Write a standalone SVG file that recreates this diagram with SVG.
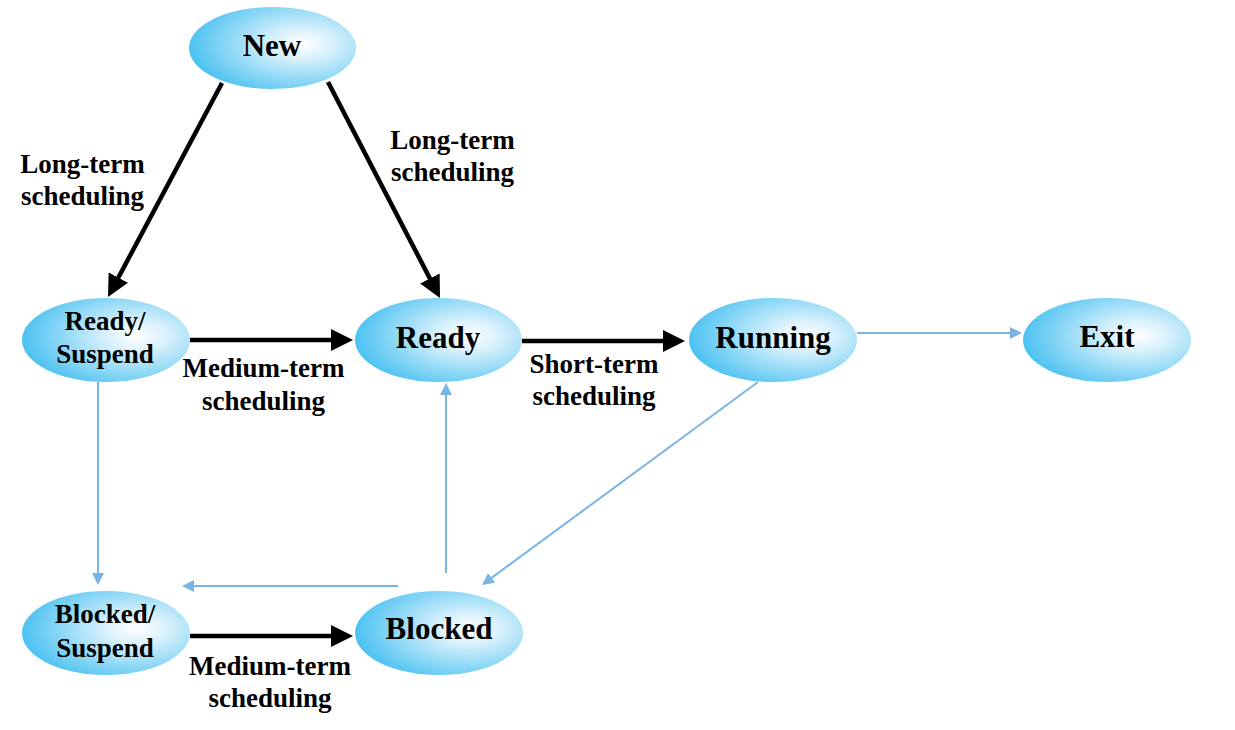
<svg xmlns="http://www.w3.org/2000/svg" width="1235" height="730" viewBox="0 0 1235 730">
<style>
.node{fill:url(#g);stroke:none}
.nt{font-family:"Liberation Serif","Times New Roman",serif;font-weight:bold;font-size:31px;fill:#000;text-anchor:middle}
.nt2{font-family:"Liberation Serif","Times New Roman",serif;font-weight:bold;font-size:27px;fill:#000;text-anchor:middle}
.lbl{font-family:"Liberation Serif","Times New Roman",serif;font-weight:bold;font-size:27px;fill:#000;text-anchor:middle}
.blk{stroke:#000;stroke-width:4.5;fill:none;marker-end:url(#ab)}
.blu{stroke:#7ab4e4;stroke-width:2;fill:none;marker-end:url(#au)}
</style>
<defs>
<radialGradient id="g" cx="0.68" cy="0.45" r="0.68" fx="0.68" fy="0.45">
<stop offset="0" stop-color="#ffffff"/>
<stop offset="0.25" stop-color="#dcf2fc"/>
<stop offset="1" stop-color="#4cc2f1"/>
</radialGradient>
<marker id="ab" markerUnits="userSpaceOnUse" viewBox="0 0 22 22" markerWidth="22" markerHeight="22" refX="12" refY="11" orient="auto">
<path d="M0,0 L22,11 L0,22 z" fill="#000"/>
</marker>
<marker id="au" markerUnits="userSpaceOnUse" viewBox="0 0 12 12" markerWidth="12" markerHeight="12" refX="6" refY="6" orient="auto">
<path d="M0,0 L12,6 L0,12 z" fill="#7ab4e4"/>
</marker>
</defs>
<g id="connectors">
<line class="blk" x1="222" y1="83" x2="112.7" y2="288.2"/>
<line class="blk" x1="328" y1="82" x2="435.4" y2="289.1"/>
<line class="blk" x1="190" y1="340" x2="343" y2="340"/>
<line class="blk" x1="522" y1="341" x2="675" y2="341"/>
<line class="blk" x1="190" y1="636" x2="343" y2="636"/>
<line class="blu" x1="98" y1="382" x2="98" y2="579"/>
<line class="blu" x1="446" y1="573" x2="446" y2="389"/>
<line class="blu" x1="398" y1="586" x2="188" y2="586"/>
<line class="blu" x1="758" y1="382" x2="486.8" y2="581.4"/>
<line class="blu" x1="857" y1="333" x2="1016" y2="333"/>
</g>
<g id="labels">
<text class="lbl" x="82.5" y="173">Long-term</text>
<text class="lbl" x="82.5" y="205">scheduling</text>
<text class="lbl" x="452.5" y="149">Long-term</text>
<text class="lbl" x="452.5" y="181">scheduling</text>
<text class="lbl" x="263.5" y="377">Medium-term</text>
<text class="lbl" x="263.5" y="410">scheduling</text>
<text class="lbl" x="594" y="373">Short-term</text>
<text class="lbl" x="594" y="405">scheduling</text>
<text class="lbl" x="270" y="675">Medium-term</text>
<text class="lbl" x="270" y="707">scheduling</text>
</g>
<g id="new"><ellipse class="node" cx="272.5" cy="48" rx="83.5" ry="41"/><text class="nt" x="272" y="56">New</text></g>
<g id="ready-suspend"><ellipse class="node" cx="106" cy="340" rx="84" ry="42"/><text class="nt2" x="105" y="330">Ready/</text><text class="nt2" x="105" y="363">Suspend</text></g>
<g id="ready"><ellipse class="node" cx="438.5" cy="340" rx="83.5" ry="42"/><text class="nt" x="438" y="348">Ready</text></g>
<g id="running"><ellipse class="node" cx="773" cy="340" rx="84" ry="42"/><text class="nt" x="773" y="348">Running</text></g>
<g id="exit"><ellipse class="node" cx="1107" cy="340" rx="84" ry="42"/><text class="nt" x="1107" y="347">Exit</text></g>
<g id="blocked-suspend"><ellipse class="node" cx="106" cy="633" rx="84" ry="42"/><text class="nt2" x="105" y="623">Blocked/</text><text class="nt2" x="105" y="657">Suspend</text></g>
<g id="blocked"><ellipse class="node" cx="439" cy="633" rx="84" ry="42"/><text class="nt" x="439" y="639">Blocked</text></g>
</svg>
